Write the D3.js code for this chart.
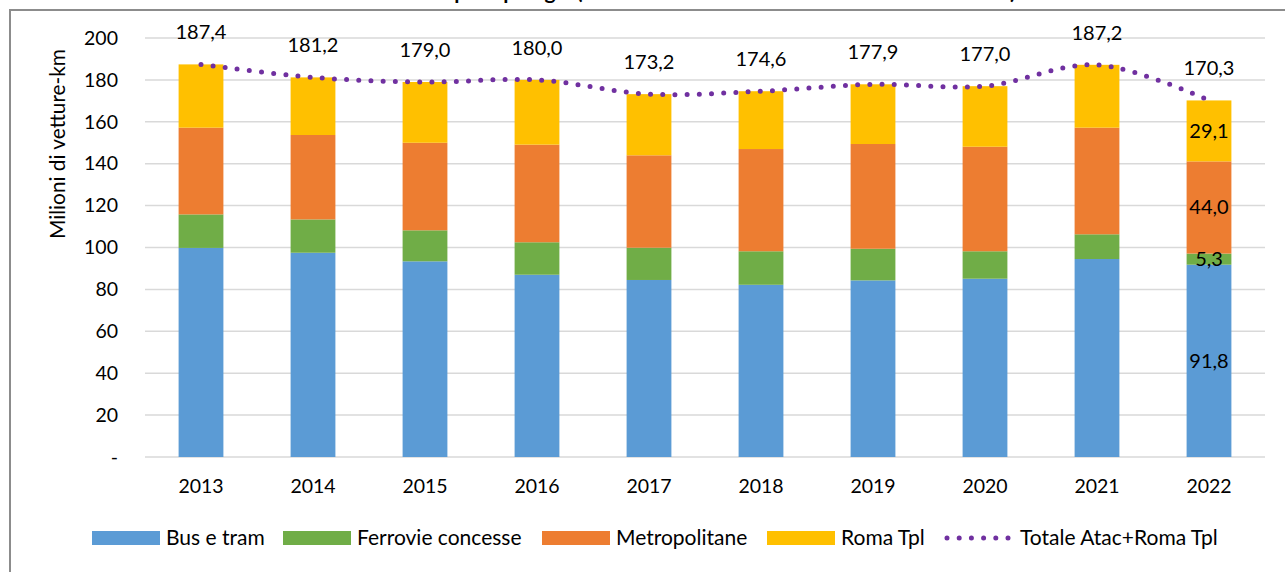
<!DOCTYPE html>
<html>
<head>
<meta charset="utf-8">
<script src="https://cdn.jsdelivr.net/npm/d3@7"></script>
<style>
  body { margin: 0; background: #fff; }
  svg { display: block; font-family: Lato, "Open Sans", sans-serif; }
</style>
</head>
<body>
<div id="chart"></div>
<script>
// data (milioni di vetture-km)
var years = ["2013", "2014", "2015", "2016", "2017", "2018", "2019", "2020", "2021", "2022"];
var busTram = [99.8, 97.5, 93.4, 87.0, 84.5, 82.2, 84.3, 85.1, 94.5, 91.8];
var ferrovie = [16.0, 15.9, 14.8, 15.5, 15.4, 16.0, 15.1, 13.1, 11.8, 5.3];
var metro = [41.4, 40.3, 41.8, 46.6, 44.1, 48.8, 50.0, 49.9, 50.9, 44.0];
var romaTpl = [30.2, 27.5, 29.0, 30.9, 29.2, 27.6, 28.5, 28.9, 30.0, 29.1];
var totale = [187.4, 181.2, 179.0, 180.0, 173.2, 174.6, 177.9, 177.0, 187.2, 170.3];
var yTicks = [0, 20, 40, 60, 80, 100, 120, 140, 160, 180, 200];

var series = [
  { key: "bus", name: "Bus e tram", values: busTram, color: "#5B9BD5" },
  { key: "ferr", name: "Ferrovie concesse", values: ferrovie, color: "#70AD47" },
  { key: "metro", name: "Metropolitane", values: metro, color: "#ED7D31" },
  { key: "tpl", name: "Roma Tpl", values: romaTpl, color: "#FFC000" }
];
var lineColor = "#7030A0";

var W = 1285, H = 572;
var fmt = function(v) { return v.toFixed(1).replace(".", ","); };

var svg = d3.select("#chart").append("svg")
  .attr("width", W)
  .attr("height", H);

// title, mostly cut off at the top edge (as in the source)
svg.append("text")
  .attr("x", 645)
  .attr("y", -1)
  .attr("text-anchor", "middle")
  .style("font-weight", "bold")
  .style("font-size", "21px")
  .text("Vetture-km offerte per tipologia (milioni di vetture-km nel decennio 2013-2022)");

// chart frame
svg.append("path")
  .attr("d", "M10," + (H + 2) + "V10H" + (W + 2))
  .attr("fill", "none")
  .attr("stroke", "#8c8c8c")
  .attr("stroke-width", 2);

var x = d3.scaleBand()
  .domain(years)
  .range([145, 1265])
  .paddingInner(0.6)
  .paddingOuter(0.3);

var y = d3.scaleLinear()
  .domain([0, 200])
  .range([457, 38]);

// gridlines
svg.append("g")
  .selectAll("line")
  .data(yTicks)
  .enter()
  .append("line")
  .attr("x1", 145)
  .attr("x2", 1265)
  .attr("y1", function(d) { return y(d); })
  .attr("y2", function(d) { return y(d); })
  .attr("stroke", "#d9d9d9")
  .attr("stroke-width", 1.5);

// y axis labels
var yAxis = svg.append("g")
  .attr("transform", "translate(128,0)")
  .call(d3.axisLeft(y).tickValues(yTicks).tickSize(0).tickPadding(10)
    .tickFormat(function(d) { return d === 0 ? "-" : d; }));
yAxis.select(".domain").remove();
yAxis.selectAll("text")
  .style("font-family", "Lato, sans-serif")
  .style("font-size", "19.5px")
  .attr("fill", "#000");

svg.append("text")
  .attr("transform", "translate(65,144) rotate(-90)")
  .attr("text-anchor", "middle")
  .style("font-size", "20.8px")
  .text("Milioni di vetture-km");

// x axis labels
var xAxis = svg.append("g")
  .attr("transform", "translate(0,457)")
  .call(d3.axisBottom(x).tickSize(0).tickPadding(22));
xAxis.select(".domain").remove();
xAxis.selectAll("text")
  .style("font-family", "Lato, sans-serif")
  .style("font-size", "19.5px")
  .attr("fill", "#000");

// stacked bars
var rows = years.map(function(yr, i) {
  var r = { year: yr };
  series.forEach(function(s) { r[s.key] = s.values[i]; });
  return r;
});
var stacked = d3.stack().keys(series.map(function(s) { return s.key; }))(rows);

svg.append("g")
  .selectAll("g")
  .data(stacked)
  .enter()
  .append("g")
  .attr("fill", function(d, i) { return series[i].color; })
  .selectAll("rect")
  .data(function(d) { return d; })
  .enter()
  .append("rect")
  .attr("x", function(d) { return x(d.data.year); })
  .attr("width", x.bandwidth())
  .attr("y", function(d) { return y(d[1]); })
  .attr("height", function(d) { return y(d[0]) - y(d[1]); });

// segment labels on the last bar
var last = years.length - 1;
svg.append("g")
  .selectAll("text")
  .data(stacked)
  .enter()
  .append("text")
  .attr("x", x(years[last]) + x.bandwidth() / 2)
  .attr("y", function(d) { return y((d[last][0] + d[last][1]) / 2); })
  .attr("dy", "0.35em")
  .attr("text-anchor", "middle")
  .style("font-size", "20px")
  .text(function(d) { return fmt(d[last][1] - d[last][0]); });

// total line (smoothed, dotted)
var line = d3.line()
  .x(function(d, i) { return x(years[i]) + x.bandwidth() / 2; })
  .y(function(d) { return y(d); })
  .curve(d3.curveCatmullRom.alpha(0.5));

svg.append("path")
  .datum(totale)
  .attr("d", line)
  .attr("fill", "none")
  .attr("stroke", lineColor)
  .attr("stroke-width", 5)
  .attr("stroke-linecap", "round")
  .attr("stroke-dasharray", "0 12.2");

svg.append("g")
  .selectAll("text")
  .data(totale)
  .enter()
  .append("text")
  .attr("x", function(d, i) { return x(years[i]) + x.bandwidth() / 2; })
  .attr("y", function(d) { return y(d) - 25; })
  .attr("text-anchor", "middle")
  .style("font-size", "20px")
  .text(function(d) { return fmt(d); });

// legend
var legendItems = [
  { name: series[0].name, color: series[0].color, x: 92 },
  { name: series[1].name, color: series[1].color, x: 283 },
  { name: series[2].name, color: series[2].color, x: 542 },
  { name: series[3].name, color: series[3].color, x: 767 },
  { name: "Totale Atac+Roma Tpl", color: lineColor, x: 944, dotted: true }
];
var lg = svg.append("g").selectAll("g")
  .data(legendItems)
  .enter()
  .append("g")
  .attr("transform", function(d) { return "translate(" + d.x + ",538)"; });

lg.filter(function(d) { return !d.dotted; })
  .append("rect")
  .attr("x", 0)
  .attr("y", -7)
  .attr("width", 68)
  .attr("height", 14)
  .attr("fill", function(d) { return d.color; });

lg.filter(function(d) { return d.dotted; })
  .append("line")
  .attr("x1", 3)
  .attr("x2", 66)
  .attr("y1", 0)
  .attr("y2", 0)
  .attr("stroke", lineColor)
  .attr("stroke-width", 5)
  .attr("stroke-linecap", "round")
  .attr("stroke-dasharray", "0 12.2");

lg.append("text")
  .attr("x", function(d) { return d.dotted ? 76 : 74; })
  .attr("y", 0)
  .attr("dy", "0.35em")
  .style("font-size", "21px")
  .text(function(d) { return d.name; });
</script>
</body>
</html>
